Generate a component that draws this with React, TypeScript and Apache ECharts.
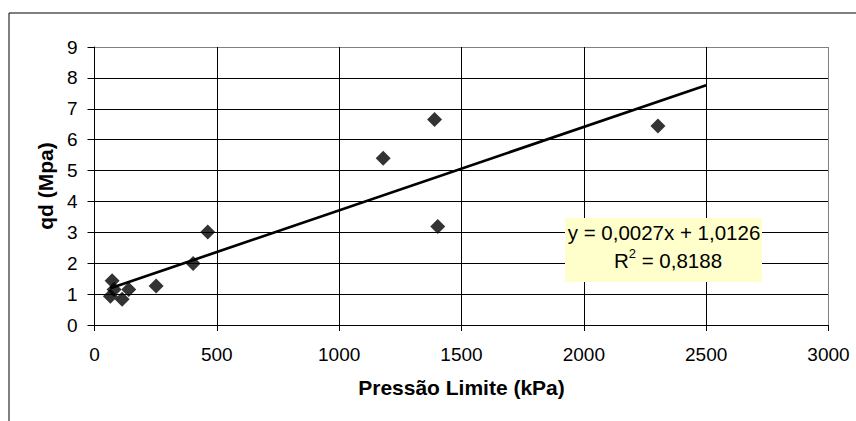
import React, { useEffect, useRef } from "react";
import * as echarts from "echarts";

const pressaoLimite = [65, 72, 80, 113, 140, 252, 403, 463, 1180, 1390, 1403, 2303];
const qd = [0.93, 1.43, 1.15, 0.83, 1.15, 1.26, 1.99, 3.01, 5.4, 6.65, 3.19, 6.44];
const trendX = [65, 2500];
const trendY = [1.188, 7.763];
const xAxisName = "Pressão Limite (kPa)";
const yAxisName = "qd (Mpa)";
const equationText = "y = 0,0027x + 1,0126";
const r2Text = "0,8188";

const FONT = "'Liberation Sans', Arial, sans-serif";

export default function App() {
  const ref = useRef<HTMLDivElement>(null);
  useEffect(() => {
    if (!ref.current) return;
    const chart = echarts.init(ref.current, null, { renderer: "svg" });
    const yGridColors = ["#000", "#000", "#000", "#000", "#000", "#000", "#000", "#000", "#000", "#808080"];
    const xGridColors = ["#000", "#000", "#000", "#000", "#000", "#000", "#808080"];
    chart.setOption({
      animation: false,
      backgroundColor: "#ffffff",
      textStyle: { fontFamily: FONT },
      grid: { left: 94.5, right: 27.5, top: 47, bottom: 96, show: false },
      xAxis: {
        type: "value",
        min: 0,
        max: 3000,
        interval: 500,
        name: xAxisName,
        nameLocation: "middle",
        nameGap: 51.5,
        nameTextStyle: { fontFamily: FONT, fontSize: 21, fontWeight: "bold", color: "#000" },
        axisLine: { show: true, onZero: false, lineStyle: { color: "#000", width: 1 } },
        axisTick: { show: true, inside: false, length: 6, lineStyle: { color: "#000" } },
        axisLabel: {
          fontFamily: FONT,
          fontSize: 19,
          color: "#000",
          margin: 20,
          formatter: (v: number) => String(v),
        },
        splitLine: { show: true, lineStyle: { color: xGridColors, width: 1 } },
      },
      yAxis: {
        type: "value",
        min: 0,
        max: 9,
        interval: 1,
        name: yAxisName,
        nameLocation: "middle",
        nameGap: 39,
        nameRotate: 90,
        nameTextStyle: { fontFamily: FONT, fontSize: 21, fontWeight: "bold", color: "#000" },
        axisLine: { show: true, onZero: false, lineStyle: { color: "#000", width: 1 } },
        axisTick: { show: true, inside: false, length: 7, lineStyle: { color: "#000" } },
        axisLabel: {
          fontFamily: FONT,
          fontSize: 19,
          color: "#000",
          margin: 17,
          formatter: (v: number) => String(v),
        },
        splitLine: { show: true, lineStyle: { color: yGridColors, width: 1 } },
      },
      series: [
        {
          type: "line",
          data: trendX.map((x, i) => [x, trendY[i]]),
          showSymbol: false,
          symbol: "none",
          lineStyle: { color: "#000", width: 2.7 },
          z: 2,
          silent: true,
        },
        {
          type: "scatter",
          data: pressaoLimite.map((x, i) => [x, qd[i]]),
          symbol: "diamond",
          symbolSize: 15,
          itemStyle: { color: "#000" },
          z: 3,
        },
      ],
      graphic: [
        {
          type: "rect",
          shape: { x: 9, y: 13, width: 1000, height: 600 },
          style: { fill: "none", stroke: "#000", lineWidth: 1 },
          z: 100,
          silent: true,
        },
        {
          type: "rect",
          shape: { x: 565, y: 218, width: 197, height: 64 },
          style: { fill: "#FFFFCC", stroke: "none" },
          z: 100,
          silent: true,
        },
        {
          type: "text",
          x: 664,
          y: 232,
          style: {
            text: equationText,
            font: `20.5px ${FONT}`,
            fill: "#000",
            align: "center",
            verticalAlign: "middle",
          },
          z: 101,
          silent: true,
        },
        {
          type: "text",
          x: 668,
          y: 259,
          style: {
            text: `{b|R}{s|2}{b| = ${r2Text}}`,
            rich: {
              b: { fontFamily: FONT, fontSize: 20.5, fill: "#000", verticalAlign: "bottom", lineHeight: 24 },
              s: { fontFamily: FONT, fontSize: 13, fill: "#000", verticalAlign: "top", lineHeight: 24 },
            },
            align: "center",
            verticalAlign: "middle",
          },
          z: 101,
          silent: true,
        },
      ],
    });
    return () => chart.dispose();
  }, []);
  return (
    <div
      ref={ref}
      style={{ position: "fixed", left: 0, top: 0, width: 856, height: 421 }}
    />
  );
}
